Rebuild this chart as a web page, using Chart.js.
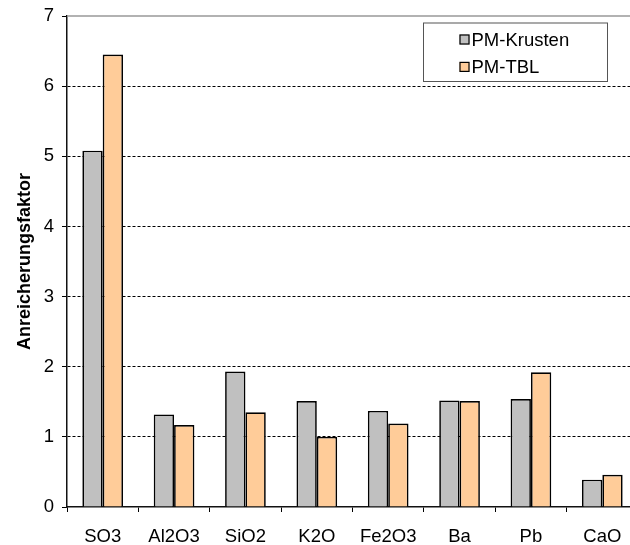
<!DOCTYPE html>
<html lang="de">
<head>
  <meta charset="UTF-8" />
  <title>Anreicherungsfaktor</title>
  <script src="https://cdn.jsdelivr.net/npm/chart.js"></script>
  <style>
    html, body {
      margin: 0;
      padding: 0;
      background: #fff;
      overflow: hidden;
    }
    .wrap {
      width: 645px;
      height: 545px;
    }
  </style>
</head>
<body>
<div class="wrap">
  <canvas id="chart" width="645" height="545"></canvas>
</div>

<script>
// data
const categories = ['SO3', 'Al2O3', 'SiO2', 'K2O', 'Fe2O3', 'Ba', 'Pb', 'CaO'];
const krusten = [5.08, 1.32, 1.93, 1.51, 1.37, 1.52, 1.54, 0.39];
const tbl = [6.45, 1.17, 1.35, 1.00, 1.19, 1.51, 1.92, 0.46];
const seriesNames = ['PM-Krusten', 'PM-TBL'];
const yTicks = [0, 1, 2, 3, 4, 5, 6, 7];

const FONT = 'Arial, "Liberation Sans", sans-serif';

// legend box in the upper right of the plot, plus the grey top frame line
const boxLegend = {
  id: 'boxLegend',
  afterDraw(chart) {
    const ctx = chart.ctx;
    const area = chart.chartArea;

    // grey top border of the plot area
    ctx.save();
    ctx.strokeStyle = '#999';
    ctx.lineWidth = 1.5;
    ctx.beginPath();
    ctx.moveTo(area.left, area.top);
    ctx.lineTo(area.right + 10, area.top);
    ctx.stroke();

    const x = 423, y = 22.5, w = 184, h = 58.5;
    ctx.fillStyle = '#fff';
    ctx.fillRect(x, y, w, h);
    ctx.strokeStyle = '#555';
    ctx.lineWidth = 1;
    ctx.strokeRect(x + 0.5, y + 0.5, w, h);

    ctx.font = '18.5px ' + FONT;
    ctx.textBaseline = 'middle';
    chart.data.datasets.forEach((ds, i) => {
      const cy = y + 17 + i * 27.4;
      const sx = x + 36.5;
      ctx.fillStyle = ds.backgroundColor;
      ctx.fillRect(sx, cy - 5, 10, 10);
      ctx.strokeStyle = '#000';
      ctx.lineWidth = 1.2;
      ctx.strokeRect(sx + 0.5, cy - 4.5, 9, 9);
      ctx.fillStyle = '#000';
      ctx.fillText(ds.label, sx + 12, cy + 1);
    });
    ctx.restore();
  }
};

new Chart(document.getElementById('chart'), {
  type: 'bar',
  data: {
    labels: categories,
    datasets: [
      {
        label: seriesNames[0],
        data: krusten,
        backgroundColor: '#C0C0C0',
        borderColor: '#000',
        borderWidth: 1.7,
        categoryPercentage: 0.57,
        barPercentage: 1.0
      },
      {
        label: seriesNames[1],
        data: tbl,
        backgroundColor: '#FFCC99',
        borderColor: '#000',
        borderWidth: 1.7,
        categoryPercentage: 0.57,
        barPercentage: 1.0
      }
    ]
  },
  options: {
    responsive: false,
    animation: false,
    layout: { padding: { top: 16, right: 7, left: 0, bottom: 0 } },
    plugins: {
      legend: { display: false },
      tooltip: { enabled: false }
    },
    scales: {
      x: {
        offset: true,
        grid: {
          offset: true,
          drawOnChartArea: false,
          drawTicks: true,
          tickLength: 5,
          tickColor: '#000',
          color: '#000'
        },
        border: { color: '#111', width: 1.5 },
        ticks: {
          color: '#000',
          font: { family: FONT, size: 18.5 },
          padding: 14,
          maxRotation: 0,
          autoSkip: false
        },
        afterFit(scale) { scale.height = 38; }
      },
      y: {
        min: 0,
        max: 7,
        afterBuildTicks(scale) {
          scale.ticks = yTicks.map(v => ({ value: v }));
        },
        grid: {
          color: ctx => (ctx.tick && (ctx.tick.value === 0 || ctx.tick.value === 7)) ? 'rgba(0,0,0,0)' : '#000',
          lineWidth: 1,
          drawTicks: true,
          tickLength: 5,
          tickColor: '#000'
        },
        border: { color: '#111', width: 1.5, dash: [3, 2] },
        ticks: {
          color: '#000',
          font: { family: FONT, size: 18.5 },
          padding: 8
        },
        title: {
          display: true,
          text: 'Anreicherungsfaktor',
          color: '#000',
          font: { family: FONT, size: 18, weight: 'bold' },
          padding: { top: 14.5, bottom: 0 }
        },
        afterFit(scale) {
          scale.width = 67;
          scale.paddingTop = 0;
          scale.paddingBottom = 0;
        }
      }
    }
  },
  plugins: [boxLegend]
});
</script>
</body>
</html>
